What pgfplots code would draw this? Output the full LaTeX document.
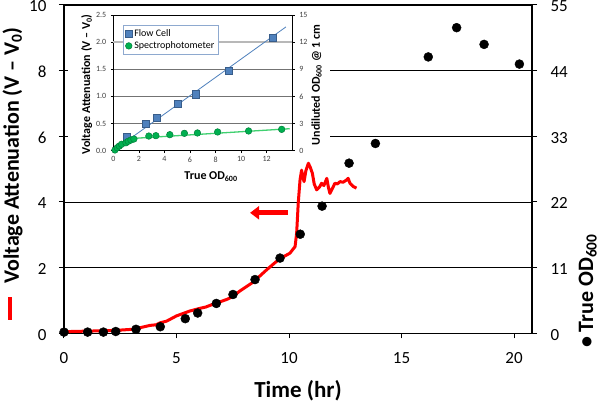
\documentclass[border=0pt]{standalone}
\usepackage{pgfplots}
\pgfplotsset{compat=1.18}
\usepackage{fontspec}
\setmainfont{Carlito}
\usetikzlibrary{arrows.meta}
\definecolor{fcblue}{HTML}{4F81BD}
\definecolor{fcblued}{HTML}{385D8A}
\definecolor{spgreen}{HTML}{00B050}
\definecolor{spgreend}{HTML}{00803A}
\definecolor{spline}{HTML}{40D070}
\definecolor{legbox}{HTML}{8EA9CF}

\pgfplotsset{
  mainax/.style={
    at={(64pt,69.7pt)}, anchor=south west,
    width=468pt, height=328.3pt, scale only axis,
    xmin=0, xmax=20.8,
    tick align=outside, major tick length=5pt,
    tick style={black, line width=1pt},
    axis line style={black, line width=1.3pt},
    /pgf/number format/assume math mode=true,
    ticklabel style={font=\fontsize{17}{20}\selectfont},
  },
  insetax/.style={
    at={(113.3pt,252.3pt)}, anchor=south west,
    width=179pt, height=135.7pt, scale only axis,
    xmin=0, xmax=14,
    tick align=outside, major tick length=2.5pt,
    tick style={black, line width=0.6pt},
    axis line style={black, line width=0.9pt},
    /pgf/number format/assume math mode=true,
    ticklabel style={font=\fontsize{8}{9}\selectfont, text=black!75},
  },
}

\begin{document}
\begin{tikzpicture}
\useasboundingbox (0pt,0pt) rectangle (600pt,403pt);

% ---------- main axis, left (voltage attenuation) ----------
\begin{axis}[mainax,
  ymin=0, ymax=10,
  xtick={0,5,...,20}, ytick={0,2,...,10},
  xtick pos=bottom, ytick pos=left,
  ymajorgrids, grid style={black, line width=0.9pt},
  xticklabel style={yshift=-11pt},
  yticklabel style={xshift=-9pt, yshift=-1.5pt},
  xlabel={Time (hr)},
  xlabel style={font=\bfseries\fontsize{23}{27}\selectfont,
    at={(axis description cs:0.5,-0.176)}, anchor=center},
  ylabel={\textcolor{red}{\rule[7pt]{23pt}{3.5pt}}\hspace{13pt}Voltage Attenuation (V -- V\textsubscript{0})},
  ylabel style={font=\bfseries\fontsize{22}{26}\selectfont,
    at={(axis description cs:-0.110,0.487)}, anchor=center},
]
\addplot[red, line width=3pt, line join=round] coordinates {
(0,0.05) (1.3,0.07) (2.34,0.09) (3.0,0.12) (3.38,0.17) (3.82,0.24)
(4.1,0.26) (4.27,0.32) (4.56,0.37) (5.0,0.53) (5.6,0.68) (6.04,0.76)
(6.3,0.80) (6.64,0.89) (7.23,1.03) (7.5,1.12) (7.82,1.29) (8.41,1.56)
(9.0,1.93) (9.6,2.28) (9.75,2.33) (10.04,2.44) (10.27,2.64) (10.34,3.05)
(10.41,3.96) (10.49,4.67) (10.56,4.97) (10.62,4.75) (10.67,4.62)
(10.75,4.95) (10.86,5.18) (10.95,5.05) (11.04,4.87) (11.12,4.55)
(11.23,4.37) (11.35,4.45) (11.45,4.57) (11.55,4.50) (11.68,4.72)
(11.75,4.45) (11.82,4.26) (11.92,4.40) (12.04,4.57) (12.15,4.55)
(12.27,4.62) (12.4,4.60) (12.56,4.67) (12.63,4.72) (12.71,4.57)
(12.86,4.47) (13.0,4.42)
};
\draw[red, line width=5pt, -{Triangle[width=13pt,length=9pt]}]
  (axis cs:9.94,3.67) -- (axis cs:8.27,3.67);
\end{axis}

% ---------- main axis, right (true OD600) ----------
\begin{axis}[mainax,
  ymin=0, ymax=55,
  axis x line=none, axis y line*=right,
  ytick={0,11,...,55},
  yticklabel style={xshift=10pt, yshift=-1.5pt},
  ylabel={\textbullet\ True OD\textsubscript{600}},
  ylabel style={font=\bfseries\fontsize{22}{26}\selectfont,
    at={(axis description cs:1.119,0.129)}, anchor=center, rotate=0},
]
\addplot[only marks, mark=*, mark size=4.5pt, black] coordinates {
(0,0.2) (1.05,0.2) (1.75,0.2) (2.3,0.3) (3.2,0.67) (4.28,1.1)
(5.39,2.45) (5.94,3.4) (6.77,5.0) (7.51,6.5) (8.49,9.0) (9.6,12.6)
(10.5,16.6) (11.47,21.3) (12.67,28.5) (13.84,31.8) (16.19,46.3)
(17.45,51.2) (18.67,48.4) (20.24,45.1)
};
\end{axis}

% ---------- inset background ----------
\fill[white] (68pt,243pt) rectangle (330pt,396.5pt);

% ---------- inset, left axis ----------
\begin{axis}[insetax,
  ymin=0, ymax=2.5,
  xtick={0,2,...,12}, ytick={0,0.5,1,1.5,2.5},
  extra y ticks={2},
  extra y tick style={grid style={black!28, line width=1.6pt}},
  xtick pos=bottom, ytick pos=left,
  ymajorgrids, grid style={black!55, line width=0.6pt},
  yticklabel style={/pgf/number format/fixed, /pgf/number format/fixed zerofill,
    /pgf/number format/precision=1, xshift=-1pt},
  xlabel={True OD\textsubscript{600}},
  xlabel style={font=\bfseries\fontsize{12}{14}\selectfont,
    at={(axis description cs:0.546,-0.192)}, anchor=center},
  ylabel={Voltage Attenuation (V -- V\textsubscript{0})},
  ylabel style={font=\bfseries\fontsize{12}{14}\selectfont,
    at={(axis description cs:-0.149,0.49)}, anchor=center},
  legend style={at={(axis description cs:0.054,0.926)}, anchor=north west,
    draw=legbox, fill=white, font=\fontsize{10}{12}\selectfont,
    inner sep=2pt, row sep=0pt},
  legend cell align=left,
]
\addplot[fcblue, line width=0.8pt, forget plot] coordinates {(0,0) (13.5,2.28)};
\addplot[only marks, mark=square*, mark size=3.6pt, mark options={fill=fcblue, draw=fcblued, line width=0.5pt}]
  coordinates {(1.04,0.247) (2.55,0.50) (3.41,0.61) (5.02,0.86) (6.44,1.04) (9.04,1.47) (12.47,2.08)};
\addlegendentry{Flow Cell}
\addlegendimage{only marks, mark=*, mark size=3.3pt, mark options={fill=spgreen, draw=spgreend, line width=0.5pt}}
\addlegendentry{Spectrophotometer}
\end{axis}

% ---------- inset, right axis ----------
\begin{axis}[insetax,
  ymin=0, ymax=15,
  axis x line=none, axis y line*=right,
  ytick={0,3,...,15},
  yticklabel style={xshift=1pt},
  ylabel={Undiluted OD\textsubscript{600} @ 1 cm},
  ylabel style={font=\bfseries\fontsize{12}{14}\selectfont,
    at={(axis description cs:1.136,0.484)}, anchor=center, rotate=0},
]
\addplot[spline, line width=1.3pt] coordinates {(0,0) (1.7,1.37) (13.8,2.43)};
\addplot[only marks, mark=*, mark size=3.3pt, mark options={fill=spgreen, draw=spgreend, line width=0.5pt}]
  coordinates {
(0.13,0.08) (0.31,0.33) (0.47,0.52) (0.65,0.71) (0.99,0.88) (1.17,1.04)
(1.38,1.18) (1.61,1.29) (2.78,1.62) (3.33,1.66) (4.42,1.77) (5.56,1.92)
(6.58,1.96) (8.16,2.07) (10.58,2.18) (13.17,2.36)
};
\end{axis}
\end{tikzpicture}
\end{document}
